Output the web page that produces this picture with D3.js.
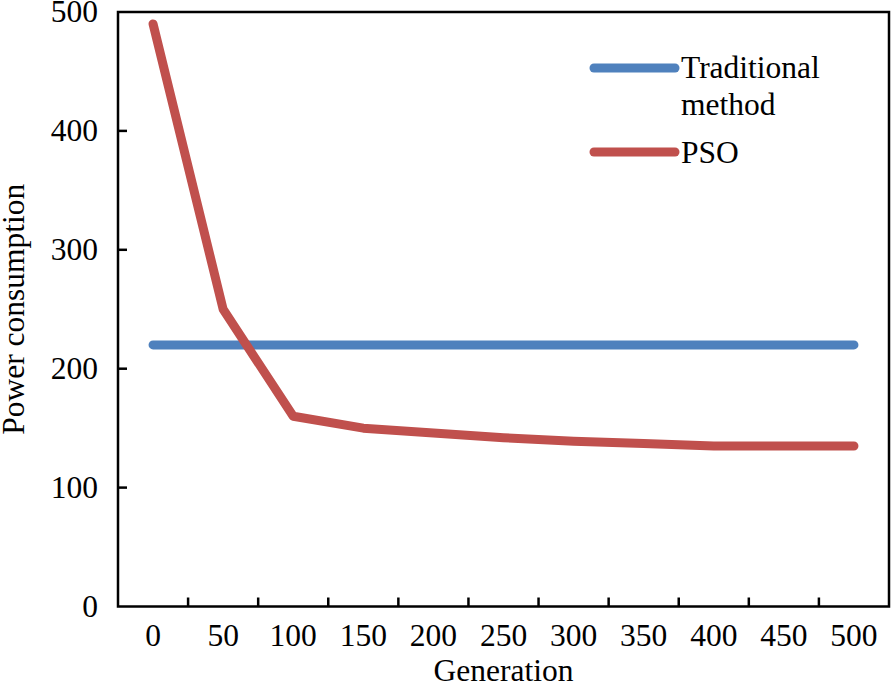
<!DOCTYPE html>
<html>
<head>
<meta charset="utf-8">
<script src="https://cdn.jsdelivr.net/npm/d3@7"></script>
<style>
  body { margin: 0; background: #fff; }
  text { font-family: "Liberation Serif", "Times New Roman", serif; fill: #000; }
</style>
</head>
<body>
<svg id="chart" width="891" height="689"></svg>
<script>
// data
var generations = ["0", "50", "100", "150", "200", "250", "300", "350", "400", "450", "500"];
var traditional = [220, 220, 220, 220, 220, 220, 220, 220, 220, 220, 220];
var pso = [490, 250, 160, 150, 146, 142, 139, 137, 135, 135, 135];
var yTicks = [0, 100, 200, 300, 400, 500];

(function () {
    "use strict";
    var svg = d3.select("#chart");
    var mLeft = 118, mRight = 889, mTop = 12, mBottom = 606.5;
    var fs = 31.5;

    var x = d3.scaleBand().domain(generations).range([mLeft, mRight]).paddingInner(0).paddingOuter(0);
    var y = d3.scaleLinear().domain([0, 500]).range([mBottom, mTop]);
    var cx = function (d) { return x(d) + x.bandwidth() / 2; };

    // frame
    svg.append("rect")
        .attr("x", mLeft).attr("y", mTop)
        .attr("width", mRight - mLeft).attr("height", mBottom - mTop)
        .attr("fill", "none").attr("stroke", "#000").attr("stroke-width", 2.5);

    // x ticks, between categories, pointing inside
    svg.append("g").selectAll("line")
        .data(generations.slice(1))
        .enter().append("line")
        .attr("x1", function (d) { return x(d); }).attr("x2", function (d) { return x(d); })
        .attr("y1", mBottom).attr("y2", mBottom - 9)
        .attr("stroke", "#000").attr("stroke-width", 2.5);

    svg.append("g").selectAll("text")
        .data(generations)
        .enter().append("text")
        .attr("x", cx).attr("y", 646)
        .attr("text-anchor", "middle")
        .attr("font-size", fs)
        .text(function (d) { return d; });

    // y ticks, inside
    svg.append("g").selectAll("line")
        .data(yTicks.slice(1, -1))
        .enter().append("line")
        .attr("x1", mLeft).attr("x2", mLeft + 9)
        .attr("y1", function (d) { return y(d); }).attr("y2", function (d) { return y(d); })
        .attr("stroke", "#000").attr("stroke-width", 2.5);

    svg.append("g").selectAll("text")
        .data(yTicks)
        .enter().append("text")
        .attr("x", 98).attr("y", function (d) { return y(d); })
        .attr("dy", "0.33em")
        .attr("text-anchor", "end")
        .attr("font-size", fs)
        .text(function (d) { return d; });

    // axis titles
    svg.append("text")
        .attr("x", (mLeft + mRight) / 2).attr("y", 681)
        .attr("text-anchor", "middle").attr("font-size", fs)
        .text("Generation");

    svg.append("text")
        .attr("transform", "translate(24," + ((mTop + mBottom) / 2) + ") rotate(-90)")
        .attr("text-anchor", "middle").attr("font-size", fs)
        .text("Power consumption");

    // series
    var line = d3.line()
        .x(function (d, i) { return cx(generations[i]); })
        .y(function (d) { return y(d); });

    var series = [
        { name: "Traditional", values: traditional, color: "#4F81BD" },
        { name: "PSO", values: pso, color: "#C0504D" }
    ];

    svg.append("g").selectAll("path")
        .data(series)
        .enter().append("path")
        .attr("d", function (s) { return line(s.values); })
        .attr("fill", "none")
        .attr("stroke", function (s) { return s.color; })
        .attr("stroke-width", 9)
        .attr("stroke-linecap", "round")
        .attr("stroke-linejoin", "round");

    // legend
    var lg = svg.append("g");
    lg.append("line").attr("x1", 594).attr("x2", 675).attr("y1", 68).attr("y2", 68)
        .attr("stroke", "#4F81BD").attr("stroke-width", 9).attr("stroke-linecap", "round");
    lg.append("line").attr("x1", 594).attr("x2", 675).attr("y1", 152).attr("y2", 152)
        .attr("stroke", "#C0504D").attr("stroke-width", 9).attr("stroke-linecap", "round");
    lg.append("text").attr("x", 681).attr("y", 78).attr("font-size", fs).text("Traditional");
    lg.append("text").attr("x", 681).attr("y", 115).attr("font-size", fs).text("method");
    lg.append("text").attr("x", 681).attr("y", 163).attr("font-size", fs).text("PSO");
})();
</script>
</body>
</html>
